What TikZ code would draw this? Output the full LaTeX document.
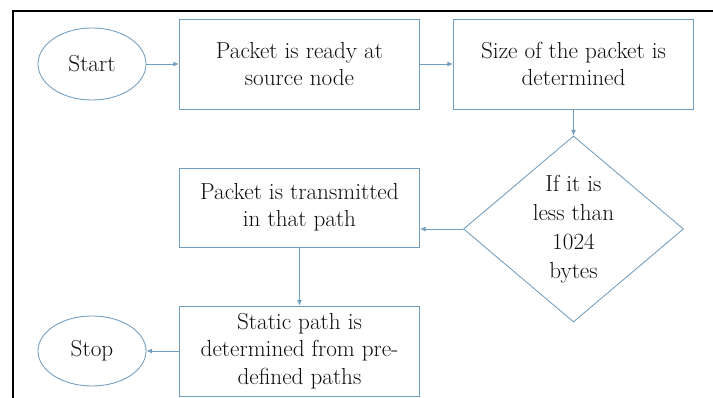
\documentclass[tikz,border=0pt]{standalone}
\usepackage{tikz}
\usetikzlibrary{shapes.geometric,arrows.meta}
\definecolor{flowblue}{RGB}{112,156,190}
\definecolor{inkgrey}{RGB}{15,15,15}

\begin{document}
\begin{tikzpicture}
  [x=0.025cm,y=-0.025cm,
   every node/.style={draw=flowblue,line width=0.6pt,text=inkgrey,align=center,
     font=\fontsize{16.5}{19.4}\selectfont},
   terminal/.style={ellipse,minimum width=2.7cm,minimum height=1.8cm,inner sep=0pt},
   process/.style={rectangle,minimum width=6cm,minimum height=2.25cm,inner sep=0pt},
   decision/.style={diamond,aspect=1.2,minimum width=5.5cm,minimum height=4.65cm,inner sep=0pt,
     font=\fontsize{16.5}{20.6}\selectfont},
   flow/.style={draw=flowblue,line width=0.6pt,-{Latex[length=4pt,width=3.5pt]}}]

  \useasboundingbox (0,0) rectangle (713,398);
  \draw[line width=2pt] (13,398) -- (13,11) -- (713,11);

  \node[terminal] (start) at (92,64) {Start};
  \node[process] (ready) at (299.5,64) {Packet is ready at\\source node};
  \node[process] (size) at (573.5,64) {Size of the packet is\\determined};
  \node[decision] (check) at (573.5,229) {If it is\\less than\\1024\\bytes};
  \node[process,minimum height=1.975cm] (sent) at (299.5,207.5) {Packet is transmitted\\in that path};
  \node[process] (static) at (299.5,351) {Static path is\\determined from pre-\\defined paths};
  \node[terminal,minimum height=1.75cm] (stop) at (92,351) {Stop};

  \foreach \from/\to in {start.east/ready.west,ready.east/size.west,size.south/check.north,
    sent.south/static.north,static.west/stop.east}
    \draw[flow] (\from) -- (\to);
  \draw[flow] (check.west) -- (check.west -| sent.east);
\end{tikzpicture}
\end{document}
